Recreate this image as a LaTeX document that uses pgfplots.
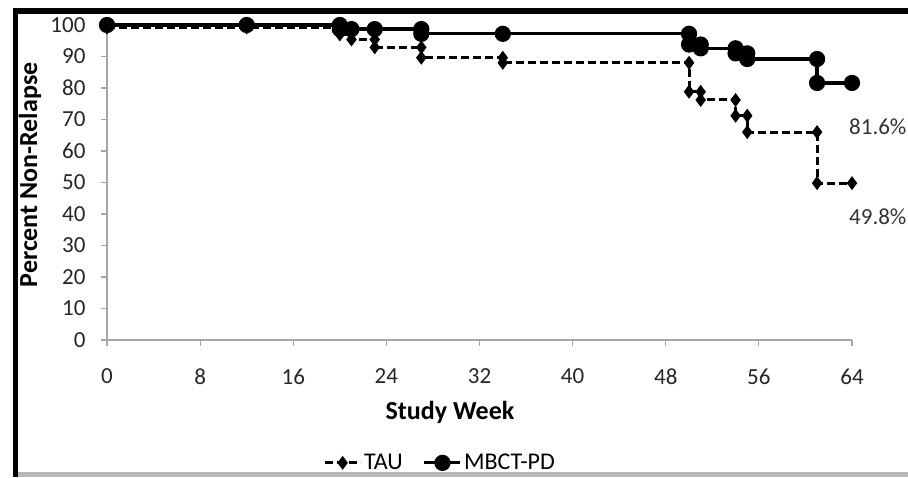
\documentclass[border=0pt]{standalone}
\usepackage{fontspec}
\setmainfont{Carlito}
\usepackage{pgfplots}
\pgfplotsset{compat=1.18}

\begin{document}
\begin{tikzpicture}[x=1pt,y=1pt]
\useasboundingbox (0,0) rectangle (908,477);
% outer frame of the chart
\fill[black] (12.5,463) rectangle (908,469);
\fill[black] (12.5,0) rectangle (18,469);
\fill[black!28] (18,0) rectangle (908,5);

\begin{axis}[
    at={(107pt,137pt)}, anchor=south west,
    scale only axis, width=745pt, height=315pt,
    xmin=0, xmax=64, ymin=0, ymax=100,
    xtick={0,8,...,64}, ytick={0,10,...,100},
    axis x line=bottom, axis y line=left,
    axis line style={-, black!35, line width=1.5pt},
    tick style={black!35, line width=1.2pt},
    tick align=outside, major tick length=6pt,
    /pgf/number format/assume math mode=true,
    ticklabel style={font=\fontsize{23}{27}\selectfont, text=black!85},
    xticklabel style={yshift=-19pt},
    yticklabel style={xshift=-12pt},
    xlabel={Study Week},
    ylabel={Percent Non-Relapse},
    label style={font=\fontsize{26}{30}\selectfont\bfseries},
    xlabel style={at={(axis description cs:0.4604,-0.2286)}, anchor=center},
    ylabel style={at={(axis description cs:-0.1034,0.524)}, anchor=center},
    clip=false,
    legend columns=2,
    legend style={draw=none, fill=none,
        at={(axis description cs:0.447,-0.39)}, anchor=center,
        font=\fontsize{24}{28}\selectfont,
        /tikz/every even column/.append style={column sep=18pt}},
    legend image code/.code={%
        \draw[mark repeat=2,mark phase=2,#1] plot coordinates {(0pt,0pt) (18pt,0pt) (36pt,0pt)};},
]

% TAU
\addplot[black, line width=3pt, dash pattern=on 8pt off 4pt,
    mark=diamond*, mark size=4.5pt, mark options={solid}]
coordinates {
(0,99.2) (12,99.2) (20,99.2) (20,97.0) (21,97.0) (21,95.4) (23,95.4)
(23,92.9) (27,92.9) (27,89.6) (34,89.6) (34,88.0) (50,88.0) (50,78.8)
(51,78.8) (51,76.2) (54,76.2) (54,71.2) (55,71.2) (55,66.0) (61,66.0)
(61,49.8) (64,49.8)
};
\addlegendentry{TAU}

% MBCT-PD
\addplot[black, line width=3.2pt, mark=*, mark size=6.5pt]
coordinates {
(0,100) (12,100) (20,100) (20,98.7) (21,98.7) (23,98.7) (27,98.7)
(27,97.2) (34,97.2) (50,97.2) (50,93.8) (51,93.8) (51,92.6) (54,92.6)
(54,91.0) (55,91.0) (55,89.2) (61,89.2) (61,81.6) (64,81.6)
};
\addlegendentry{MBCT-PD}

\end{axis}

\node[anchor=west, inner sep=0pt, font=\fontsize{23}{27}\selectfont, text=black!80] at (849,350) {81.6\%};
\node[anchor=west, inner sep=0pt, font=\fontsize{23}{27}\selectfont, text=black!80] at (849,260) {49.8\%};
\end{tikzpicture}
\end{document}
